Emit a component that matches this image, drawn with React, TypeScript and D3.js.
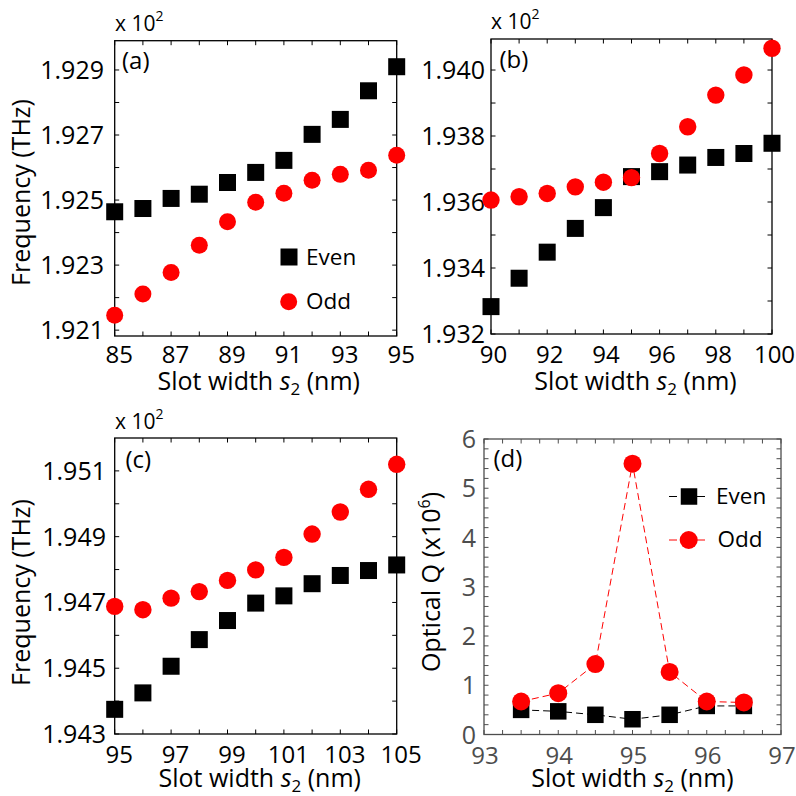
import React from "react";
import * as d3 from "d3";

const FONT = "'Open Sans', 'DejaVu Sans', sans-serif";

// Panel (a)
const slotA = [85, 86, 87, 88, 89, 90, 91, 92, 93, 94, 95];
const evenA = [1.92464, 1.92474, 1.92505, 1.92518, 1.92554, 1.92585, 1.92622, 1.92702, 1.92748, 1.92836, 1.9291];
const oddA = [1.92146, 1.92211, 1.92277, 1.92361, 1.92433, 1.92493, 1.92521, 1.92561, 1.92579, 1.92592, 1.92638];
const yLabelsA = [1.921, 1.923, 1.925, 1.927, 1.929];
const xLabelsA = [85, 87, 89, 91, 93, 95];

// Panel (b)
const slotB = [90, 91, 92, 93, 94, 95, 96, 97, 98, 99, 100];
const evenB = [1.93283, 1.93369, 1.93448, 1.9352, 1.93583, 1.93677, 1.93692, 1.93712, 1.93735, 1.93747, 1.93778];
const oddB = [1.93606, 1.93616, 1.93626, 1.93646, 1.9366, 1.93674, 1.93747, 1.93828, 1.93924, 1.93985, 1.94066];
const yLabelsB = [1.932, 1.934, 1.936, 1.938, 1.94];
const xLabelsB = [90, 92, 94, 96, 98, 100];

// Panel (c)
const slotC = [95, 96, 97, 98, 99, 100, 101, 102, 103, 104, 105];
const evenC = [1.94375, 1.94425, 1.94506, 1.94587, 1.94645, 1.94698, 1.9472, 1.94757, 1.94782, 1.94797, 1.94814];
const oddC = [1.94688, 1.94678, 1.94713, 1.94733, 1.94767, 1.94799, 1.94837, 1.94908, 1.94975, 1.95044, 1.9512];
const yLabelsC = [1.943, 1.945, 1.947, 1.949, 1.951];
const xLabelsC = [95, 97, 99, 101, 103, 105];

// Panel (d)
const slotD = [93.5, 94, 94.5, 95, 95.5, 96, 96.5];
const evenD = [0.5, 0.47, 0.4, 0.31, 0.4, 0.58, 0.58];
const oddD = [0.67, 0.84, 1.43, 5.5, 1.27, 0.67, 0.65];
const yLabelsD = [0, 1, 2, 3, 4, 5, 6];
const xLabelsD = [93, 94, 95, 96, 97];

const seriesNames = ["Even", "Odd"];

const RED = "#ff0000";
const YTICK_FS = 25;
const XTICK_FS = 24;
const TITLE_FS = 25;

function steps(a: number, b: number, step: number) {
  const n = Math.round((b - a) / step);
  return d3.range(n + 1).map((i) => a + i * step);
}

type PanelProps = {
  box: [number, number, number, number]; // left, top, right, bottom
  xDomain: [number, number];
  yDomain: [number, number];
  xMinor: number[];
  yMinor: number[];
  xLabels: number[];
  yLabels: number[];
  yFmt: (v: number) => string;
  xs: number[];
  even: number[];
  odd: number[];
  tag: string;
  tagPos: [number, number];
  yLabelX: number;
  xLabelDx: number;
  xTitleDx: number;
  xLabelY: number;
  xTitleY: number;
  yTitle?: React.ReactNode;
  mult?: [number, number];
  axisColor: string;
  tickColor: string;
  lines?: boolean;
  sq: number;
  r: number;
};

function Panel(p: PanelProps) {
  const [l, t, rgt, b] = p.box;
  const x = d3.scaleLinear().domain(p.xDomain).range([l, rgt]);
  const y = d3.scaleLinear().domain(p.yDomain).range([b, t]);
  const tl = 4.5;
  const line = d3
    .line<number>()
    .x((_, i) => x(p.xs[i]))
    .y((d) => y(d));
  return (
    <g>
      {p.xMinor.map((v, i) => (
        <g key={"xt" + i} stroke={p.axisColor} strokeWidth={1}>
          <line x1={x(v)} x2={x(v)} y1={b} y2={b - tl} />
          <line x1={x(v)} x2={x(v)} y1={t} y2={t + tl} />
        </g>
      ))}
      {p.yMinor.map((v, i) => (
        <g key={"yt" + i} stroke={p.axisColor} strokeWidth={1}>
          <line x1={l} x2={l + tl} y1={y(v)} y2={y(v)} />
          <line x1={rgt} x2={rgt - tl} y1={y(v)} y2={y(v)} />
        </g>
      ))}
      <rect x={l} y={t} width={rgt - l} height={b - t} fill="none" stroke={p.axisColor} strokeWidth={1.3} />
      {p.xLabels.map((v, i) => (
        <text key={"xl" + i} x={x(v) + p.xLabelDx} y={p.xLabelY} textAnchor="middle" fontSize={XTICK_FS} fill={p.tickColor}>
          {v}
        </text>
      ))}
      {p.yLabels.map((v, i) => (
        <text key={"yl" + i} x={p.yLabelX} y={y(v)} dy="0.36em" textAnchor="end" fontSize={YTICK_FS} fill={p.tickColor}>
          {p.yFmt(v)}
        </text>
      ))}
      <text x={(l + rgt) / 2 + p.xTitleDx} y={p.xTitleY} textAnchor="middle" fontSize={TITLE_FS} fill="#000">
        Slot width <tspan fontStyle="italic">s</tspan>
        <tspan fontSize={17} dy={5}>2</tspan>
        <tspan dy={-5}> (nm)</tspan>
      </text>
      {p.yTitle}
      {p.mult && (
        <text x={p.mult[0]} y={p.mult[1]} fontSize={21} fill="#000">
          x 10<tspan fontSize={14} dy={-10}>2</tspan>
        </text>
      )}
      <text x={p.tagPos[0]} y={p.tagPos[1]} fontSize={24} fill="#000">
        {p.tag}
      </text>
      {p.lines && (
        <>
          <path d={line(p.even) || ""} fill="none" stroke="#000" strokeWidth={1} strokeDasharray="7,4" />
          <path d={line(p.odd) || ""} fill="none" stroke={RED} strokeWidth={1} strokeDasharray="7,4" />
        </>
      )}
      {p.even.map((v, i) => (
        <rect key={"e" + i} x={x(p.xs[i]) - p.sq / 2} y={y(v) - p.sq / 2} width={p.sq} height={p.sq} fill="#000" />
      ))}
      {p.odd.map((v, i) => (
        <circle key={"o" + i} cx={x(p.xs[i])} cy={y(v)} r={p.r} fill={RED} />
      ))}
    </g>
  );
}

const fmt3 = d3.format(".3f");
const fmt0 = d3.format("d");

function FreqTitle({ cy }: { cy: number }) {
  return (
    <text transform={`translate(30,${cy}) rotate(-90)`} textAnchor="middle" fontSize={TITLE_FS} fill="#000">
      Frequency (THz)
    </text>
  );
}

export default function App() {
  return (
    <svg
      width={796}
      height={796}
      viewBox="0 0 796 796"
      style={{ position: "absolute", left: 0, top: 0, background: "#fff", fontFamily: FONT }}
    >
      <rect width={796} height={796} fill="#fff" />
      <Panel
        box={[114.7, 40.7, 396.7, 336]}
        xDomain={[85, 95]}
        yDomain={[1.92082, 1.9299]}
        xMinor={steps(85, 95, 1)}
        yMinor={steps(1.921, 1.929, 0.001)}
        xLabels={xLabelsA}
        yLabels={yLabelsA}
        yFmt={fmt3}
        xs={slotA}
        even={evenA}
        odd={oddA}
        tag="(a)"
        tagPos={[122, 69]}
        yLabelX={104}
        xLabelDx={4.5}
        xTitleDx={3}
        xLabelY={363}
        xTitleY={390}
        yTitle={<FreqTitle cy={192.5} />}
        mult={[115, 30.5]}
        axisColor="#000"
        tickColor="#000"
        sq={17}
        r={8.5}
      />
      <Panel
        box={[491, 39, 772, 334]}
        xDomain={[90, 100]}
        yDomain={[1.932, 1.94094]}
        xMinor={steps(90, 100, 1)}
        yMinor={steps(1.932, 1.94, 0.001)}
        xLabels={xLabelsB}
        yLabels={yLabelsB}
        yFmt={fmt3}
        xs={slotB}
        even={evenB}
        odd={oddB}
        tag="(b)"
        tagPos={[499.5, 67.5]}
        yLabelX={485}
        xLabelDx={2.5}
        xTitleDx={4}
        xLabelY={363}
        xTitleY={390}
        mult={[491, 28.5]}
        axisColor="#000"
        tickColor="#000"
        sq={17}
        r={8.7}
      />
      <Panel
        box={[114.7, 438, 396.7, 734]}
        xDomain={[95, 105]}
        yDomain={[1.943, 1.952]}
        xMinor={steps(95, 105, 1)}
        yMinor={steps(1.943, 1.951, 0.001)}
        xLabels={xLabelsC}
        yLabels={yLabelsC}
        yFmt={fmt3}
        xs={slotC}
        even={evenC}
        odd={oddC}
        tag="(c)"
        tagPos={[125.5, 468]}
        yLabelX={106}
        xLabelDx={4.5}
        xTitleDx={4}
        xLabelY={763}
        xTitleY={787}
        yTitle={<FreqTitle cy={592.5} />}
        mult={[115, 428.5]}
        axisColor="#000"
        tickColor="#000"
        sq={17}
        r={8.7}
      />
      <Panel
        box={[484, 439, 781, 734.5]}
        xDomain={[93, 97]}
        yDomain={[0, 6]}
        xMinor={steps(93, 97, 0.25)}
        yMinor={steps(0, 6, 0.2)}
        xLabels={xLabelsD}
        yLabels={yLabelsD}
        yFmt={fmt0}
        xs={slotD}
        even={evenD}
        odd={oddD}
        tag="(d)"
        tagPos={[493.5, 467]}
        yLabelX={476}
        xLabelDx={1}
        xTitleDx={0}
        xLabelY={764}
        xTitleY={787}
        yTitle={
          <text transform="translate(440,582) rotate(-90)" textAnchor="middle" fontSize={TITLE_FS} fill="#000">
            Optical Q (x10<tspan fontSize={16} dy={-10}>6</tspan>
            <tspan dy={10}>)</tspan>
          </text>
        }
        axisColor="#4d4d4d"
        tickColor="#4d4d4d"
        lines
        sq={16.5}
        r={9}
      />
      {/* legend (a) */}
      <g>
        <rect x={289 - 8.5} y={257 - 8.5} width={17} height={17} fill="#000" />
        <text x={306} y={265} fontSize={22.5} fill="#000">{seriesNames[0]}</text>
        <circle cx={288.7} cy={301.7} r={8.5} fill={RED} />
        <text x={306} y={308.5} fontSize={22.5} fill="#000">{seriesNames[1]}</text>
      </g>
      {/* legend (d) */}
      <g>
        <line x1={669} x2={709} y1={496.5} y2={496.5} stroke="#000" strokeWidth={1} strokeDasharray="8,6" />
        <rect x={689 - 8.25} y={496.5 - 8.25} width={16.5} height={16.5} fill="#000" />
        <text x={716} y={504} fontSize={22.5} fill="#000">{seriesNames[0]}</text>
        <line x1={669} x2={709} y1={540} y2={540} stroke={RED} strokeWidth={1} strokeDasharray="8,6" />
        <circle cx={688.7} cy={540} r={9} fill={RED} />
        <text x={717.5} y={546.5} fontSize={22.5} fill="#000">{seriesNames[1]}</text>
      </g>
    </svg>
  );
}
